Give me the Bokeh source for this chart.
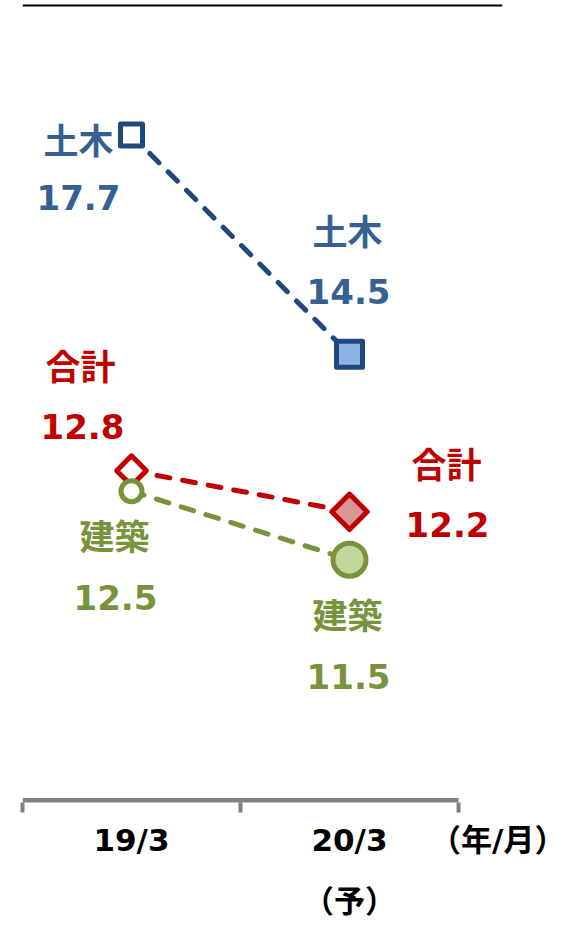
from bokeh.plotting import figure
from bokeh.models import ColumnDataSource, FixedTicker, Span, Range1d
from bokeh.core.properties import value
from bokeh.embed import file_html
from bokeh.resources import INLINE

# ---- data ----
categories = ["19/3", "20/3"]
category_labels = ["19/3", "20/3\n（予）"]
unit_label = "（年/月）"
series_names = ["土木", "合計", "建築"]
doboku = [17.7, 14.5]
goukei = [12.8, 12.2]
kenchiku = [12.5, 11.5]

# ---- styles ----
FONT = "DejaVu Sans, Noto Sans CJK JP"
CJK = "Noto Sans CJK JP"
line_colors = {"土木": "#1F497D", "合計": "#C00000", "建築": "#77933C"}
text_colors = {"土木": "#366092", "合計": "#C00000", "建築": "#77933C"}
fill_colors = {"土木": "#8DB3E2", "合計": "#DA9694", "建築": "#C3D69B"}
marker_kind = {"土木": "square", "合計": "square", "建築": "circle"}
marker_angle = {"土木": 0.0, "合計": 0.7853981634, "建築": 0.0}
marker_sizes = {"土木": [22, 26], "合計": [21, 25], "建築": [21, 33]}
# label offsets (pixels) for name and value, per point
name_off = {"土木": [(-53, 3), (-2, -125)],
            "合計": [(-51, -106), (97, -49)],
            "建築": [(-17, 43), (-2, 54)]}
val_off = {"土木": [(-53, 62), (-1, -63)],
           "合計": [(-49, -44), (98, 13)],
           "建築": [(-16, 106), (-1, 117)]}

series_values = {"土木": doboku, "合計": goukei, "建築": kenchiku}
n = len(categories)
x_pos = [i + 0.5 for i in range(n)]
boundaries = list(range(n + 1))
unit_x = n + 0.18

Y0, Y1 = 7.9555, 19.6635
p = figure(width=575, height=926, output_backend="svg", toolbar_location=None,
           x_range=Range1d(0, 2.2018), y_range=Range1d(Y0, Y1),
           min_border_left=22, min_border_right=73, min_border_top=0,
           min_border_bottom=124)
p.outline_line_color = None
p.grid.visible = False
p.yaxis.visible = False
p.background_fill_color = "white"
p.border_fill_color = "white"

ax = p.xaxis[0]
ax.ticker = FixedTicker(ticks=x_pos + [unit_x], minor_ticks=boundaries)
labels = {x: lab for x, lab in zip(x_pos, category_labels)}
labels[unit_x] = unit_label
ax.major_label_overrides = labels
ax.axis_line_color = None
ax.major_tick_out = 0
ax.major_tick_in = 0
ax.minor_tick_out = 10
ax.minor_tick_in = 0
ax.minor_tick_line_width = 4
ax.minor_tick_line_color = "#808080"
ax.major_label_text_font = FONT
ax.major_label_text_font_style = "bold"
ax.major_label_text_font_size = "31px"
ax.major_label_text_color = "black"
ax.major_label_text_line_height = 1.7
ax.major_label_standoff = 9

# axis baseline spanning the category boundaries
base_y = Y0 + 2 / 68.5
p.segment(x0=[boundaries[0]], y0=[base_y], x1=[boundaries[-1]], y1=[base_y],
          line_color="#808080", line_width=5)

p.add_layout(Span(location=19.5905, dimension="width", line_color="black", line_width=2))

for name in series_names:
    vals = series_values[name]
    p.line(x_pos, vals, line_color=line_colors[name], line_width=5,
           line_dash="13 13", line_cap="round")
for name in series_names:
    vals = series_values[name]
    src = ColumnDataSource(dict(x=x_pos, y=vals,
                                fill=["white", fill_colors[name]],
                                size=marker_sizes[name]))
    p.scatter("x", "y", source=src, marker=marker_kind[name], size="size",
              angle=marker_angle[name], fill_color="fill",
              line_color=line_colors[name], line_width=5, line_join="round")
    nsrc = ColumnDataSource(dict(x=x_pos, y=vals, t=[name, name],
                                 dx=[o[0] for o in name_off[name]],
                                 dy=[o[1] for o in name_off[name]]))
    p.text("x", "y", text="t", source=nsrc, x_offset="dx", y_offset="dy",
           text_font=value(CJK), text_font_style="bold", text_font_size="35px",
           text_color=text_colors[name], text_align="center", text_baseline="middle")
    vsrc = ColumnDataSource(dict(x=x_pos, y=vals, t=[f"{v:.1f}" for v in vals],
                                 dx=[o[0] for o in val_off[name]],
                                 dy=[o[1] for o in val_off[name]]))
    p.text("x", "y", text="t", source=vsrc, x_offset="dx", y_offset="dy",
           text_font=value(FONT), text_font_style="bold", text_font_size="34px",
           text_color=text_colors[name], text_align="center", text_baseline="middle")

open("out.html", "w").write(file_html(p, INLINE))
